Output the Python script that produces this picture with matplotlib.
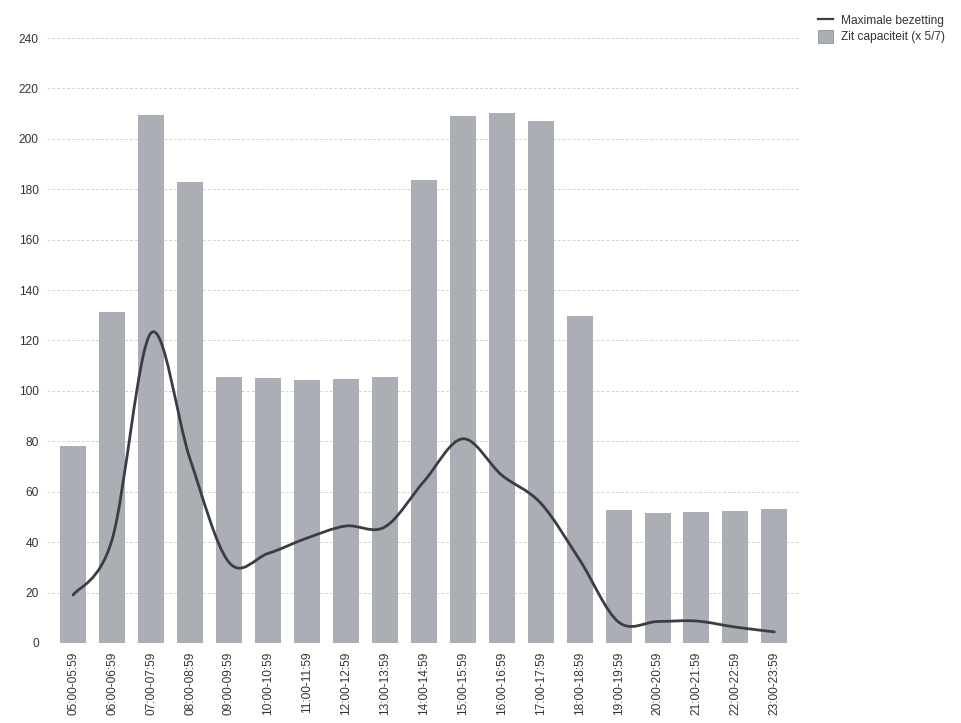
import matplotlib
matplotlib.use("Agg")
import matplotlib.pyplot as plt
from matplotlib.path import Path
from matplotlib.patches import PathPatch
from matplotlib.lines import Line2D
from matplotlib.patches import Patch

plt.rcParams['font.family'] = ['Liberation Sans', 'DejaVu Sans']

# time slots
slots = ["05:00-05:59", "06:00-06:59", "07:00-07:59", "08:00-08:59", "09:00-09:59",
         "10:00-10:59", "11:00-11:59", "12:00-12:59", "13:00-13:59", "14:00-14:59",
         "15:00-15:59", "16:00-16:59", "17:00-17:59", "18:00-18:59", "19:00-19:59",
         "20:00-20:59", "21:00-21:59", "22:00-22:59", "23:00-23:59"]

# seat capacity (x 5/7)
capaciteit = [78, 131.5, 209.5, 183, 105.5, 105, 104.5, 104.7, 105.5, 183.7,
              209, 210.2, 207, 129.7, 52.8, 51.6, 52, 52.4, 53.2]

# maximum occupancy
bezetting = [19, 41, 123, 73, 32, 35.5, 41.6, 46.4, 46, 64,
             81, 66.6, 55.5, 33, 8.3, 8.5, 8.7, 6.3, 4.4]

bar_color = "#abaeb4"
line_color = "#3c3d44"
text_color = "#333333"

fig = plt.figure(figsize=(9.62, 7.23), dpi=100)
ax = fig.add_axes([0.049, 0.1107, 0.783, 0.8367])

x = list(range(len(slots)))
ax.bar(x, capaciteit, width=0.667, color=bar_color, zorder=2)

# smooth line through the points (cardinal spline drawn as bezier path)
verts = [(x[0], bezetting[0])]
codes = [Path.MOVETO]
t = 0.5
n = len(x)
for i in range(n - 1):
    p0 = (x[max(i - 1, 0)], bezetting[max(i - 1, 0)])
    p1 = (x[i], bezetting[i])
    p2 = (x[i + 1], bezetting[i + 1])
    p3 = (x[min(i + 2, n - 1)], bezetting[min(i + 2, n - 1)])
    c1 = (p1[0] + (p2[0] - p0[0]) * t / 3, p1[1] + (p2[1] - p0[1]) * t / 3)
    c2 = (p2[0] - (p3[0] - p1[0]) * t / 3, p2[1] - (p3[1] - p1[1]) * t / 3)
    verts += [c1, c2, p2]
    codes += [Path.CURVE4] * 3
ax.add_patch(PathPatch(Path(verts, codes), facecolor="none", edgecolor=line_color,
                       lw=2.0, capstyle="round", zorder=3))

ax.set_xlim(-0.667, n - 1 + 0.667)
ax.set_ylim(0, 240)
ax.set_yticks(range(0, 241, 20))
ax.set_xticks(x)
ax.set_xticklabels(slots, rotation=90, fontsize=8.6, color=text_color)
ax.tick_params(axis="y", labelsize=8.6, colors=text_color, length=0, pad=6)
ax.tick_params(axis="x", length=0, pad=6)
ax.grid(axis="y", color="#d4d4d4", linestyle=(0, (3, 2)), lw=0.7, zorder=0)
for s in ax.spines.values():
    s.set_visible(False)

handles = [Line2D([0], [0], color=line_color, lw=1.6),
           Patch(facecolor=bar_color, edgecolor="#8e9196", lw=0.6)]
fig.legend(handles, ["Maximale bezetting", "Zit capaciteit (x 5/7)"],
           loc="upper left", bbox_to_anchor=(0.842, 0.993), frameon=False,
           fontsize=8.6, labelcolor=text_color, handlelength=1.2, handleheight=1.3,
           handletextpad=0.7, labelspacing=0.25, borderpad=0.2)

fig.savefig("out.png", dpi=100)
